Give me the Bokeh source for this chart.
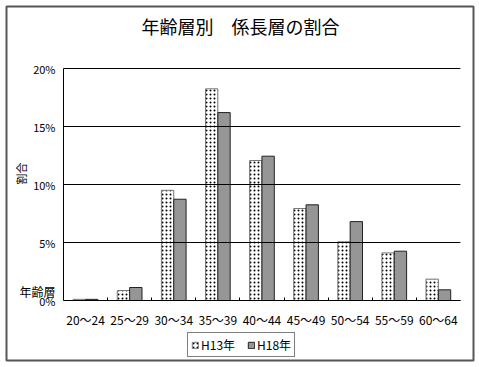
import math
from bokeh.plotting import figure
from bokeh.models import (ColumnDataSource, Legend, LegendItem, Label,
                          BoxAnnotation, FixedTicker, PrintfTickFormatter, LinearAxis)
from bokeh.embed import file_html
from bokeh.resources import INLINE

categories = ["20〜24", "25〜29", "30〜34", "35〜39", "40〜44", "45〜49", "50〜54", "55〜59", "60〜64"]
h13 = [0.1, 0.86, 9.5, 18.25, 12.07, 7.93, 5.06, 4.1, 1.84]
h18 = [0.1, 1.12, 8.73, 16.2, 12.44, 8.25, 6.8, 4.25, 0.92]
series_names = ["H13年", "H18年"]
yticks = [0, 5, 10, 15, 20]

FONT = "Noto Sans CJK JP"

# Pixel geometry: frame covers whole canvas. Plot area x 63..460 (9 categories, 44px each),
# 0% at y=300, 20% at y=68 -> 11.6 px per %.
W, H = 479, 367
X0, CW = 63, 44.1
Y0, PU = 300, 11.6


def dx(px):
    return (px - X0) / CW


def dy(py):
    return (Y0 - py) / PU


centers = [i + 0.5 for i in range(len(categories))]
bounds = list(range(1, len(categories)))
bw = 0.28
src = ColumnDataSource(dict(x1=[c - bw / 2 for c in centers], x2=[c + bw / 2 for c in centers],
                            h13=h13, h18=h18))

p = figure(width=W, height=H, x_range=(dx(0), dx(W)), y_range=(dy(H), dy(0)),
           output_backend="svg", toolbar_location=None,
           x_axis_location=None, y_axis_location=None,
           min_border=0, min_border_left=0, min_border_right=0, min_border_top=0, min_border_bottom=0)
p.background_fill_color = "white"
p.border_fill_color = "white"
p.outline_line_color = None

r1 = p.vbar(x="x1", top="h13", width=bw, source=src,
            fill_color="white", line_color="#777777", line_width=1,
            hatch_pattern=".", hatch_color="black", hatch_scale=4, hatch_weight=0.6)
r2 = p.vbar(x="x2", top="h18", width=bw, source=src,
            fill_color="#969696", line_color="#222222", line_width=1)

# horizontal gridlines only across the plot area
p.xgrid.grid_line_color = None
p.ygrid.grid_line_color = None
p.segment(x0=[0] * len(yticks), x1=[len(categories)] * len(yticks), y0=yticks, y1=yticks,
          line_color="black", line_width=1)

yaxis = LinearAxis(ticker=FixedTicker(ticks=yticks), formatter=PrintfTickFormatter(format="%d%%"),
                   bounds=(0, 20), fixed_location=0)
yaxis.major_label_text_font = FONT
yaxis.major_label_text_font_size = "11px"
yaxis.major_label_text_color = "black"
yaxis.major_tick_line_color = None
yaxis.major_tick_out = 0
yaxis.major_tick_in = 0
yaxis.minor_tick_line_color = None
yaxis.major_label_standoff = 8
yaxis.axis_line_color = "black"
p.add_layout(yaxis, "left")

xaxis = LinearAxis(ticker=FixedTicker(ticks=centers, minor_ticks=bounds),
                   bounds=(0, len(categories)), fixed_location=0,
                   major_label_overrides={c: lab for c, lab in zip(centers, categories)})
xaxis.major_label_text_font = FONT
xaxis.major_label_text_font_size = "12px"
xaxis.major_label_text_color = "black"
xaxis.major_tick_line_color = None
xaxis.major_tick_out = 0
xaxis.major_tick_in = 0
xaxis.minor_tick_line_color = "black"
xaxis.minor_tick_in = 3
xaxis.minor_tick_out = 0
xaxis.axis_line_color = "black"
xaxis.major_label_standoff = 10
p.add_layout(xaxis, "below")

legend = Legend(items=[LegendItem(label=series_names[0], renderers=[r1]),
                       LegendItem(label=series_names[1], renderers=[r2])],
                orientation="horizontal", location=(187, H - 357),
                label_text_font=FONT, label_text_font_size="12px", label_text_color="black",
                glyph_width=8, glyph_height=8, spacing=12, padding=3, margin=0,
                label_standoff=2, border_line_color="black", label_height=14)
p.add_layout(legend)

p.add_layout(Label(x=dx(240), y=dy(25), text="年齢層別　係長層の割合", text_color="black",
                   text_font=FONT, text_font_size="18px", text_align="center", text_baseline="middle"))
p.add_layout(Label(x=dx(20), y=dy(173), text="割合", angle=math.pi / 2, text_color="black",
                   text_font=FONT, text_font_size="11px", text_align="center", text_baseline="middle"))
p.add_layout(Label(x=dx(19), y=dy(291), text="年齢層", text_color="black",
                   text_font=FONT, text_font_size="12px", text_align="left", text_baseline="middle"))
p.add_layout(BoxAnnotation(left=dx(6), right=dx(473), top=dy(6), bottom=dy(360),
                           fill_color=None, fill_alpha=0, line_color="#555555", line_alpha=1,
                           line_width=2))

open("out.html", "w").write(file_html(p, INLINE))
